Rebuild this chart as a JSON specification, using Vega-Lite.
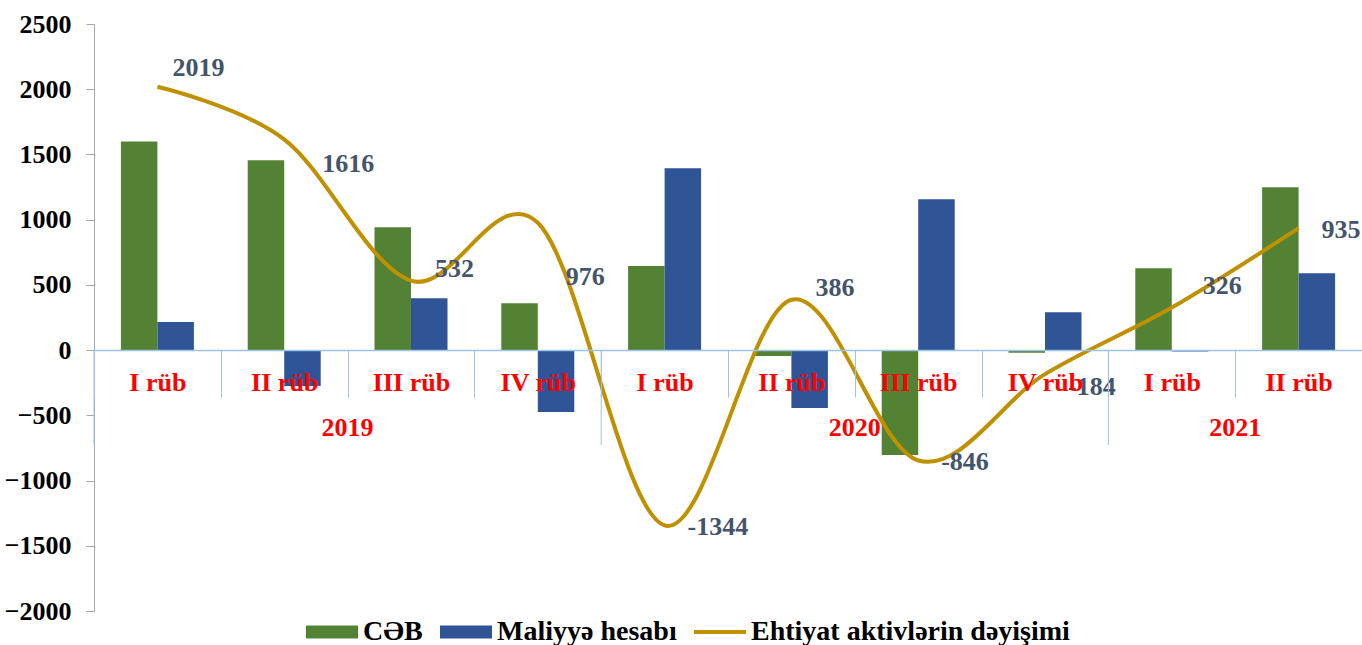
{
  "$schema": "https://vega.github.io/schema/vega-lite/v6.json",
  "width": 1268,
  "height": 587,
  "autosize": {"type": "none"},
  "padding": {"left": 94, "top": 24, "right": 0, "bottom": 34},
  "config": {"view": {"stroke": null}, "font": "Liberation Serif"},
  "datasets": {
    "bars": [
      {"q": "I rüb 2019", "series": "CƏB", "value": 1600},
      {"q": "I rüb 2019", "series": "Maliyyə hesabı", "value": 215},
      {"q": "II rüb 2019", "series": "CƏB", "value": 1456},
      {"q": "II rüb 2019", "series": "Maliyyə hesabı", "value": -276},
      {"q": "III rüb 2019", "series": "CƏB", "value": 942},
      {"q": "III rüb 2019", "series": "Maliyyə hesabı", "value": 398},
      {"q": "IV rüb 2019", "series": "CƏB", "value": 360},
      {"q": "IV rüb 2019", "series": "Maliyyə hesabı", "value": -475},
      {"q": "I rüb 2020", "series": "CƏB", "value": 644},
      {"q": "I rüb 2020", "series": "Maliyyə hesabı", "value": 1395},
      {"q": "II rüb 2020", "series": "CƏB", "value": -46},
      {"q": "II rüb 2020", "series": "Maliyyə hesabı", "value": -444},
      {"q": "III rüb 2020", "series": "CƏB", "value": -805},
      {"q": "III rüb 2020", "series": "Maliyyə hesabı", "value": 1157},
      {"q": "IV rüb 2020", "series": "CƏB", "value": -20},
      {"q": "IV rüb 2020", "series": "Maliyyə hesabı", "value": 291},
      {"q": "I rüb 2021", "series": "CƏB", "value": 628},
      {"q": "I rüb 2021", "series": "Maliyyə hesabı", "value": -10},
      {"q": "II rüb 2021", "series": "CƏB", "value": 1249},
      {"q": "II rüb 2021", "series": "Maliyyə hesabı", "value": 590}
    ],
    "line": [
      {"q": "I rüb 2019", "year": "2019", "value": 2019},
      {"q": "II rüb 2019", "year": "2019", "value": 1616},
      {"q": "III rüb 2019", "year": "2019", "value": 532},
      {"q": "IV rüb 2019", "year": "2019", "value": 976},
      {"q": "I rüb 2020", "year": "2020", "value": -1344},
      {"q": "II rüb 2020", "year": "2020", "value": 386},
      {"q": "III rüb 2020", "year": "2020", "value": -846},
      {"q": "IV rüb 2020", "year": "2020", "value": -184},
      {"q": "I rüb 2021", "year": "2021", "value": 326},
      {"q": "II rüb 2021", "year": "2021", "value": 935}
    ]
  },
  "layer": [
    {
      "data": {"name": "bars"},
      "mark": {"type": "bar"},
      "encoding": {
        "x": {
          "field": "q", "type": "nominal",
          "scale": {"domain": ["I rüb 2019","II rüb 2019","III rüb 2019","IV rüb 2019","I rüb 2020","II rüb 2020","III rüb 2020","IV rüb 2020","I rüb 2021","II rüb 2021"], "paddingInner": 0, "paddingOuter": 0},
          "axis": {
            "title": null, "offset": -260.89, "zindex": 1,
            "labelExpr": "slice(datum.label, 0, -5)",
            "labelAngle": 0, "labelFont": "Liberation Serif", "labelFontSize": 26, "labelFontWeight": "bold", "labelColor": "#FF0000",
            "labelPadding": -28, "labelOverlap": false, "labelBound": false,
            "domainColor": "#9DC3E6", "domainWidth": 1.5,
            "tickColor": "#9DC3E6", "tickWidth": 1, "tickSize": 47, "tickBand": "extent"
          }
        },
        "xOffset": {"field": "series", "type": "nominal", "scale": {"domain": ["CƏB", "Maliyyə hesabı"], "paddingInner": 0, "paddingOuter": 0.737}},
        "y": {
          "field": "value", "type": "quantitative",
          "scale": {"domain": [-2000, 2500], "nice": false, "zero": false},
          "axis": {
            "title": null, "grid": false, "format": "d",
            "values": [-2000, -1500, -1000, -500, 0, 500, 1000, 1500, 2000, 2500],
            "labelFont": "Liberation Serif", "labelFontSize": 26, "labelFontWeight": "bold", "labelColor": "#000000",
            "labelPadding": 15, "domainColor": "#A6A6A6", "tickColor": "#A6A6A6", "tickSize": 8
          }
        },
        "color": {
          "field": "series", "type": "nominal",
          "scale": {"domain": ["CƏB", "Maliyyə hesabı", "Ehtiyat aktivlərin dəyişimi"], "range": ["#548235", "#2F5597", "#BF9000"]},
          "legend": {
            "orient": "none", "legendX": 212, "legendY": 582, "direction": "horizontal", "title": null,
            "labelFont": "Liberation Serif", "labelFontSize": 28, "labelFontWeight": "bold", "labelColor": "#000000", "labelLimit": 500,
            "symbolSize": 2704, "symbolType": "M-1,-0.25H1V0.25H-1Z", "labelOffset": 5, "columnPadding": 17,
            "encode": {
              "symbols": {
                "update": {
                  "shape": {"signal": "datum.value === 'Ehtiyat aktivlərin dəyişimi' ? 'M-1,-0.075H1V0.075H-1Z' : 'M-1,-0.25H1V0.25H-1Z'"},
                  "fill": {"scale": "color", "field": "value"},
                  "strokeWidth": {"value": 0},
                  "opacity": {"value": 1}
                }
              }
            }
          }
        }
      }
    },
    {
      "data": {"name": "line"},
      "transform": [{"filter": {"field": "q", "oneOf": ["I rüb 2019", "I rüb 2020", "I rüb 2021"]}}],
      "mark": {"type": "rule", "color": "#9DC3E6", "strokeWidth": 1},
      "encoding": {
        "x": {"field": "q", "type": "nominal", "bandPosition": 0},
        "y": {"datum": 0},
        "y2": {"datum": -728}
      }
    },
    {
      "data": {"name": "line"},
      "transform": [{"filter": {"field": "q", "oneOf": ["III rüb 2019", "III rüb 2020", "II rüb 2021"]}}],
      "mark": {"type": "text", "font": "Liberation Serif", "fontSize": 26, "fontWeight": "bold", "color": "#FF0000", "align": "center", "baseline": "middle"},
      "encoding": {
        "x": {"field": "q", "type": "nominal", "bandPosition": 0},
        "y": {"datum": -598},
        "text": {"field": "year"}
      }
    },
    {
      "data": {"name": "line"},
      "mark": {"type": "line", "interpolate": "cardinal", "tension": 0, "strokeWidth": 4},
      "encoding": {
        "x": {"field": "q", "type": "nominal"},
        "y": {"field": "value", "type": "quantitative"},
        "color": {"datum": "Ehtiyat aktivlərin dəyişimi"}
      }
    },
    {
      "data": {"name": "line"},
      "transform": [{"filter": {"field": "q", "oneOf": ["I rüb 2019"]}}],
      "mark": {"type": "text", "font": "Liberation Serif", "fontSize": 26, "fontWeight": "bold", "color": "#44546A", "align": "left", "baseline": "middle", "dx": 15, "dy": -19},
      "encoding": {"x": {"field": "q", "type": "nominal"}, "y": {"field": "value", "type": "quantitative"}, "text": {"field": "value"}}
    },
    {
      "data": {"name": "line"},
      "transform": [{"filter": {"field": "q", "oneOf": ["II rüb 2019"]}}],
      "mark": {"type": "text", "font": "Liberation Serif", "fontSize": 26, "fontWeight": "bold", "color": "#44546A", "align": "left", "baseline": "middle", "dx": 38, "dy": 25},
      "encoding": {"x": {"field": "q", "type": "nominal"}, "y": {"field": "value", "type": "quantitative"}, "text": {"field": "value"}}
    },
    {
      "data": {"name": "line"},
      "transform": [{"filter": {"field": "q", "oneOf": ["III rüb 2019", "II rüb 2020"]}}],
      "mark": {"type": "text", "font": "Liberation Serif", "fontSize": 26, "fontWeight": "bold", "color": "#44546A", "align": "left", "baseline": "middle", "dx": 24, "dy": -12},
      "encoding": {"x": {"field": "q", "type": "nominal"}, "y": {"field": "value", "type": "quantitative"}, "text": {"field": "value"}}
    },
    {
      "data": {"name": "line"},
      "transform": [{"filter": {"field": "q", "oneOf": ["IV rüb 2019"]}}],
      "mark": {"type": "text", "font": "Liberation Serif", "fontSize": 26, "fontWeight": "bold", "color": "#44546A", "align": "left", "baseline": "middle", "dx": 28, "dy": 54},
      "encoding": {"x": {"field": "q", "type": "nominal"}, "y": {"field": "value", "type": "quantitative"}, "text": {"field": "value"}}
    },
    {
      "data": {"name": "line"},
      "transform": [{"filter": {"field": "q", "oneOf": ["I rüb 2020", "III rüb 2020", "II rüb 2021"]}}],
      "mark": {"type": "text", "font": "Liberation Serif", "fontSize": 26, "fontWeight": "bold", "color": "#44546A", "align": "left", "baseline": "middle", "dx": 23, "dy": 2},
      "encoding": {"x": {"field": "q", "type": "nominal"}, "y": {"field": "value", "type": "quantitative"}, "text": {"field": "value"}}
    },
    {
      "data": {"name": "line"},
      "transform": [{"filter": {"field": "q", "oneOf": ["IV rüb 2020"]}}],
      "mark": {"type": "text", "font": "Liberation Serif", "fontSize": 26, "fontWeight": "bold", "color": "#44546A", "align": "left", "baseline": "middle", "dx": 23, "dy": 13},
      "encoding": {"x": {"field": "q", "type": "nominal"}, "y": {"field": "value", "type": "quantitative"}, "text": {"field": "value"}}
    },
    {
      "data": {"name": "line"},
      "transform": [{"filter": {"field": "q", "oneOf": ["I rüb 2021"]}}],
      "mark": {"type": "text", "font": "Liberation Serif", "fontSize": 26, "fontWeight": "bold", "color": "#44546A", "align": "left", "baseline": "middle", "dx": 31, "dy": -22},
      "encoding": {"x": {"field": "q", "type": "nominal"}, "y": {"field": "value", "type": "quantitative"}, "text": {"field": "value"}}
    }
  ]
}
